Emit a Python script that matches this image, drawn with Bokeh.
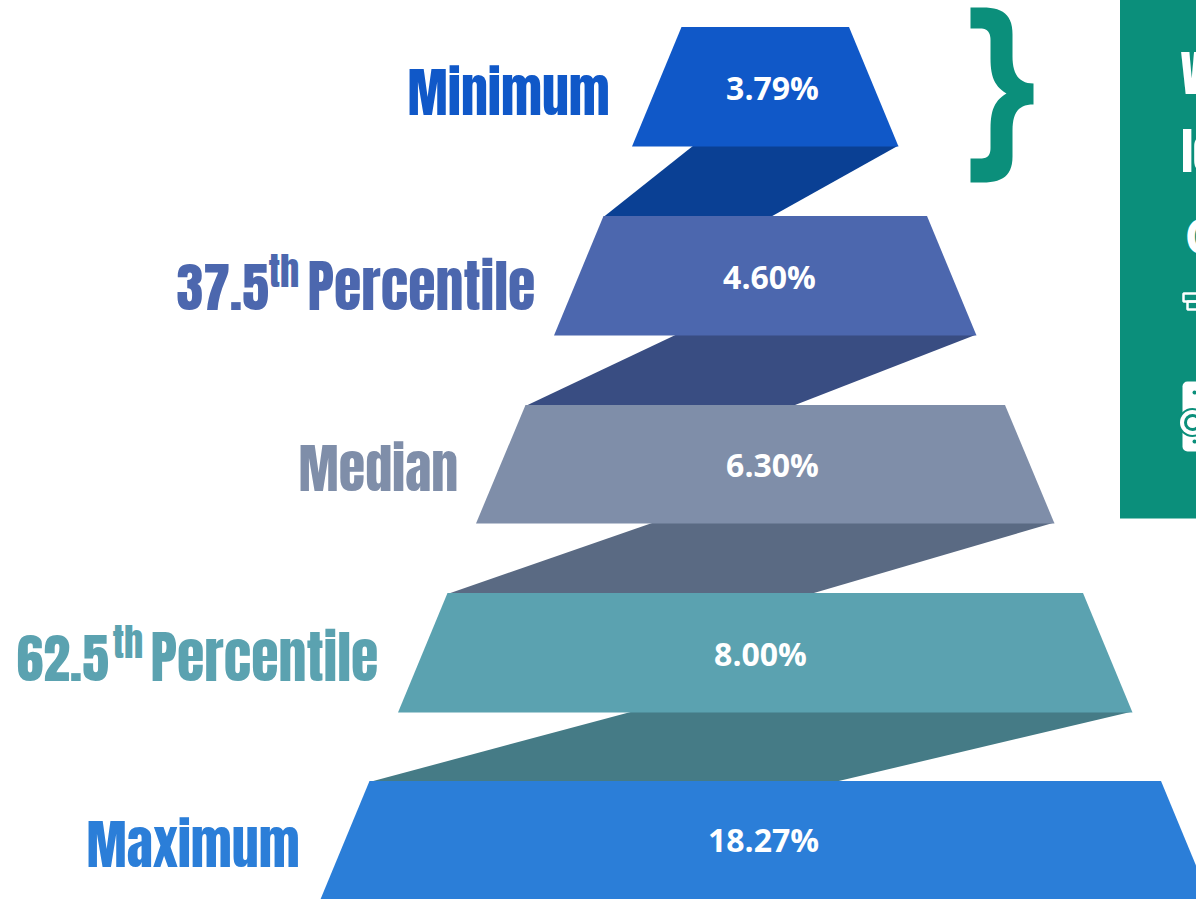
from bokeh.core.properties import value
from bokeh.embed import file_html
from bokeh.models import Range1d
from bokeh.plotting import figure
from bokeh.resources import INLINE

# Funnel content, top tier first
tiers = ["Minimum", "37.5", "Median", "62.5", "Maximum"]
rates = [3.79, 4.60, 6.30, 8.00, 18.27]
face_colors = ["#1058C8", "#4C67AE", "#7F8EA9", "#5BA2B0", "#2B7ED8"]
side_colors = ["#0A4094", "#394D82", "#5A6A83", "#457B86"]

# Funnel geometry in page pixels
AXIS_X = 764.75
TOPS = [26.5, 215.5, 404.5, 592.5, 780.5]
BOTTOMS = [146, 335, 523, 712, 900]
TOP_HALF_0, BOTTOM_HALF_0, HALF_STEP = 83.75, 133.25, 78
SIDE_LEFT = [693, 676, 653, 632]
SIDE_RIGHT = [770, 792, 810, 834]
VALUE_X = [772, 769, 772, 760, 763]

LABEL_FONT = value("Anton")
VALUE_FONT = value("Open Sans")
PANEL = "#0B8F7B"
# Anton sits below the requested alphabetic baseline by this share of its size
BASELINE_SHIFT = 0.45


def cubic(p0, p1, p2, p3, n=14):
    """Sample a cubic Bezier, leaving out its starting point."""
    pts = []
    for k in range(1, n + 1):
        t = k / n
        u = 1 - t
        pts.append((
            u**3 * p0[0] + 3 * u * u * t * p1[0] + 3 * u * t * t * p2[0] + t**3 * p3[0],
            u**3 * p0[1] + 3 * u * u * t * p1[1] + 3 * u * t * t * p2[1] + t**3 * p3[1],
        ))
    return pts


def brace_outline():
    path = [(970, 7), (982, 7)]
    path += cubic((982, 7), (1002, 7), (1012, 14), (1012, 34))
    path += [(1012, 56)]
    path += cubic((1012, 56), (1012, 73), (1018, 83), (1033, 83))
    path += [(1033, 104)]
    path += cubic((1033, 104), (1018, 104), (1012, 112), (1012, 130))
    path += [(1012, 156)]
    path += cubic((1012, 156), (1012, 175), (1002, 182), (982, 182))
    path += [(970, 182), (970, 158), (980, 158)]
    path += cubic((980, 158), (987, 158), (990, 155), (990, 147))
    path += [(990, 128)]
    path += cubic((990, 128), (990, 110), (994, 100), (1006, 93))
    path += cubic((1006, 93), (994, 86), (990, 76), (990, 58))
    path += [(990, 40)]
    path += cubic((990, 40), (990, 32), (987, 28), (980, 28))
    path += [(970, 28)]
    return [q[0] for q in path], [q[1] for q in path]


# One spare pixel along the top and left is pulled off the page by the negative margin
p = figure(
    width=1197, height=900, output_backend="svg", toolbar_location=None,
    x_range=Range1d(-1, 1196), y_range=Range1d(899, -1),
    x_axis_location=None, y_axis_location=None,
    min_border=0, outline_line_color=None, background_fill_color="white",
    margin=(-1, 0, 0, -1),
)
p.grid.visible = False


def anton(x, base, label, size, color):
    p.text([x], [base - BASELINE_SHIFT * size], text=[label], text_color=color,
           text_font=LABEL_FONT, text_font_size=f"{size}px", text_baseline="alphabetic")


# Shaded slanted faces joining neighbouring tiers; they run one pixel under the faces
for i, color in enumerate(side_colors):
    y0, y1 = BOTTOMS[i], TOPS[i + 1]
    p.patch(
        [SIDE_LEFT[i], AXIS_X + BOTTOM_HALF_0 + i * HALF_STEP,
         SIDE_RIGHT[i], AXIS_X - (TOP_HALF_0 + (i + 1) * HALF_STEP)],
        [y0 - 1, y0 - 1, y1 + 1, y1 + 1],
        fill_color=color, line_color=None,
    )

# Tier faces with their rates
for i, (rate, color) in enumerate(zip(rates, face_colors)):
    top_half = TOP_HALF_0 + i * HALF_STEP
    bottom_half = BOTTOM_HALF_0 + i * HALF_STEP
    p.patch(
        [AXIS_X - top_half, AXIS_X + top_half, AXIS_X + bottom_half, AXIS_X - bottom_half],
        [TOPS[i], TOPS[i], BOTTOMS[i], BOTTOMS[i]],
        fill_color=color, line_color=None,
    )
    p.text(
        [VALUE_X[i]], [(TOPS[i] + BOTTOMS[i]) / 2 + 0.5 - (2 if i == 4 else 0)],
        text=[f"{rate:.2f}%"], text_color="white", text_font=VALUE_FONT,
        text_font_style="bold", text_font_size="32px",
        text_align="center", text_baseline="middle",
    )

# Tier names to the left of the funnel
anton(407, 116, tiers[0], 54, face_colors[0])
anton(298, 492, tiers[2], 54, face_colors[2])
anton(86, 868, tiers[4], 54, face_colors[4])

percentile_names = [(tiers[1], 176, 268, 307, 311, face_colors[1]),
                    (tiers[3], 16, 112, 150, 682, face_colors[3])]
for number, x_num, x_th, x_word, base, color in percentile_names:
    anton(x_num, base, number, 54, color)
    anton(x_th, base - 23, "th", 38, color)
    anton(x_word, base, "Percentile", 56, color)

# Brace beside the top tier
bx, by = brace_outline()
p.patch(bx, by, fill_color=PANEL, line_color=None)

# Call-out panel running off the page edge
p.quad(left=[1119.5], right=[1200], top=[-3], bottom=[518], fill_color=PANEL, line_color=None)
anton(1180, 95, "W", 49, "white")
anton(1181, 172, "Io", 50, "white")
p.text([1184], [235], text=["C"], text_color="white", text_font=VALUE_FONT, text_font_style="bold",
       text_font_size="48px", text_baseline="middle")

# Small icons on the panel
p.quad(left=[1183], right=[1200], top=[293], bottom=[301], fill_color=None, line_color="white", line_width=2.5)
p.quad(left=[1187], right=[1200], top=[301], bottom=[309], fill_color=None, line_color="white", line_width=2.5)
p.quad(left=[1182], right=[1200], top=[381], bottom=[451], fill_color="white", line_color=None, border_radius=5)
p.scatter([1192], [422], size=29, marker="circle", fill_color=PANEL, line_color=None)
p.scatter([1192], [422], size=25, marker="circle", fill_color="white", line_color=None)
p.scatter([1192], [422], size=17, marker="circle", fill_color=PANEL, line_color=None)
p.scatter([1192], [422], size=11, marker="circle", fill_color="white", line_color=None)
p.scatter([1194, 1194], [392, 441], size=4, marker="circle", fill_color=PANEL, line_color=None)

open("out.html", "w").write(file_html(p, INLINE))
